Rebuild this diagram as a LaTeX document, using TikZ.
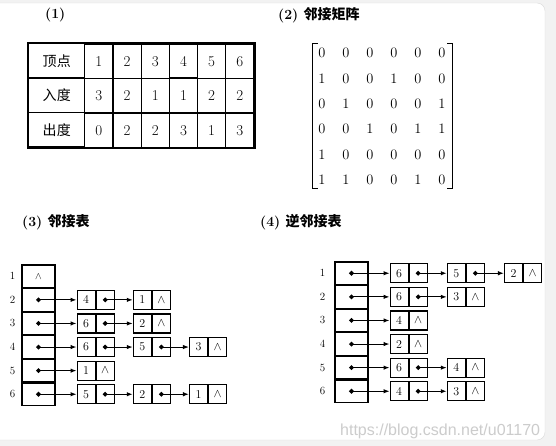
\documentclass[tikz,border=0pt]{standalone}
\usepackage{fontspec}
\newfontfamily\cjk{Noto Sans CJK SC}
\newfontfamily\urlfont{Liberation Sans}
\usetikzlibrary{arrows.meta, positioning, matrix, calc}

\begin{document}
\begin{tikzpicture}[x=1pt, y=-1pt,
    heading/.style={anchor=west, inner sep=0pt, font=\fontsize{14}{14}\selectfont\bfseries},
    cell/.style={draw, line width=1.1pt, minimum height=34pt, minimum width=28.2pt, inner sep=0pt, font=\fontsize{15}{15}\selectfont},
    hd/.style={draw, line width=1.1pt, minimum width=33pt, minimum height=22.5pt, inner sep=0pt},
    dat/.style={draw, line width=1.1pt, minimum width=18pt, minimum height=19pt, inner sep=0pt, font=\fontsize{12}{12}\selectfont},
    idx/.style={inner sep=0pt, font=\fontsize{11}{11}\selectfont},
    ptr/.style={{Circle[length=4.6pt]}-{Latex[length=6pt,width=4.5pt]}, line width=1.1pt, shorten <=-2.3pt},
    bracket/.style={line width=1pt}
]
\useasboundingbox (0,0) rectangle (556,446);
% frame of the screenshot
\fill[gray!10] (0,0) rectangle (556,446);
\fill[white, draw=gray!30, rounded corners=8pt] (-10,3) rectangle (545,440);

% headings
\node[heading] (t1) at (45,15) {(1)};
\node[heading] (t2) at (278,15) {(2) {\cjk\bfseries 邻接矩阵}};
\node[heading] (t3) at (22,222) {(3) {\cjk\bfseries 邻接表}};
\node[heading] (t4) at (260,222) {(4) {\cjk\bfseries 逆邻接表}};

% (1) degree table
\matrix (deg) [matrix of nodes, anchor=north west, inner sep=0pt,
    column sep=-1.1pt, row sep=-1.1pt, nodes={cell},
    column 1/.style={nodes={minimum width=56pt, font=\cjk\fontsize{14}{14}\selectfont}}] at (28,43) {
顶点 & 1 & 2 & 3 & 4 & 5 & 6 \\
入度 & 3 & 2 & 1 & 1 & 2 & 2 \\
出度 & 0 & 2 & 2 & 3 & 1 & 3 \\
};
\draw[line width=1.8pt] (deg.north west) rectangle (deg.south east);

% (2) adjacency matrix
\matrix (adj) [matrix of math nodes, inner sep=0pt,
    nodes={minimum width=24pt, minimum height=25.4pt, inner sep=0pt, font=\fontsize{14}{14}\selectfont}] at (382,116.5) {
0 & 0 & 0 & 0 & 0 & 0 \\
1 & 0 & 0 & 1 & 0 & 0 \\
0 & 1 & 0 & 0 & 0 & 1 \\
0 & 0 & 1 & 0 & 1 & 1 \\
1 & 0 & 0 & 0 & 0 & 0 \\
1 & 1 & 0 & 0 & 1 & 0 \\
};
\draw[bracket] ($(adj.north west)+(8,3)$) -- ++(-5,0) -- ($(adj.south west)+(3,-4)$) -- ++(5,0);
\draw[bracket] ($(adj.north east)+(-7,3)$) -- ++(5,0) -- ($(adj.south east)+(-2,-4)$) -- ++(-5,0);

% (3) adjacency list
\node[hd] (v1) at (38.5,276.25) {$\wedge$};
\node[hd, below=0pt of v1] (v2) {};
\node[hd, below=0pt of v2] (v3) {};
\node[hd, below=0pt of v3] (v4) {};
\node[hd, below=0pt of v4] (v5) {};
\node[hd, below=0pt of v5] (v6) {};
\node[idx, left=6pt of v1] (r1) {1};
\node[idx, left=6pt of v2] (r2) {2};
\node[idx, left=6pt of v3] (r3) {3};
\node[idx, left=6pt of v4] (r4) {4};
\node[idx, left=6pt of v5] (r5) {5};
\node[idx, left=6pt of v6] (r6) {6};

\node[dat, right=21pt of v2] (v2a) {4};
\node[dat, right=0pt of v2a] (v2ap) {};
\node[dat, right=18pt of v2ap] (v2b) {1};
\node[dat, right=0pt of v2b] (v2bp) {$\wedge$};

\node[dat, right=21pt of v3] (v3a) {6};
\node[dat, right=0pt of v3a] (v3ap) {};
\node[dat, right=18pt of v3ap] (v3b) {2};
\node[dat, right=0pt of v3b] (v3bp) {$\wedge$};

\node[dat, right=21pt of v4] (v4a) {6};
\node[dat, right=0pt of v4a] (v4ap) {};
\node[dat, right=18pt of v4ap] (v4b) {5};
\node[dat, right=0pt of v4b] (v4bp) {};
\node[dat, right=18pt of v4bp] (v4c) {3};
\node[dat, right=0pt of v4c] (v4cp) {$\wedge$};

\node[dat, right=21pt of v5] (v5a) {1};
\node[dat, right=0pt of v5a] (v5ap) {$\wedge$};

\node[dat, right=21pt of v6] (v6a) {5};
\node[dat, right=0pt of v6a] (v6ap) {};
\node[dat, right=18pt of v6ap] (v6b) {2};
\node[dat, right=0pt of v6b] (v6bp) {};
\node[dat, right=18pt of v6bp] (v6c) {1};
\node[dat, right=0pt of v6c] (v6cp) {$\wedge$};

\draw[ptr] (v2.center) -- (v2a);
\draw[ptr] (v2ap.center) -- (v2b);
\draw[ptr] (v3.center) -- (v3a);
\draw[ptr] (v3ap.center) -- (v3b);
\draw[ptr] (v4.center) -- (v4a);
\draw[ptr] (v4ap.center) -- (v4b);
\draw[ptr] (v4bp.center) -- (v4c);
\draw[ptr] (v5.center) -- (v5a);
\draw[ptr] (v6.center) -- (v6a);
\draw[ptr] (v6ap.center) -- (v6b);
\draw[ptr] (v6bp.center) -- (v6c);

% (4) inverse adjacency list
\node[hd] (w1) at (351.5,273.25) {};
\node[hd, below=0pt of w1] (w2) {};
\node[hd, below=0pt of w2] (w3) {};
\node[hd, below=0pt of w3] (w4) {};
\node[hd, below=0pt of w4] (w5) {};
\node[hd, below=0pt of w5] (w6) {};
\node[idx, left=9pt of w1] (s1) {1};
\node[idx, left=9pt of w2] (s2) {2};
\node[idx, left=9pt of w3] (s3) {3};
\node[idx, left=9pt of w4] (s4) {4};
\node[idx, left=9pt of w5] (s5) {5};
\node[idx, left=9pt of w6] (s6) {6};

\node[dat, right=21pt of w1] (w1a) {6};
\node[dat, right=0pt of w1a] (w1ap) {};
\node[dat, right=19pt of w1ap] (w1b) {5};
\node[dat, right=0pt of w1b] (w1bp) {};
\node[dat, right=19pt of w1bp] (w1c) {2};
\node[dat, right=0pt of w1c] (w1cp) {$\wedge$};

\node[dat, right=21pt of w2] (w2a) {6};
\node[dat, right=0pt of w2a] (w2ap) {};
\node[dat, right=19pt of w2ap] (w2b) {3};
\node[dat, right=0pt of w2b] (w2bp) {$\wedge$};

\node[dat, right=21pt of w3] (w3a) {4};
\node[dat, right=0pt of w3a] (w3ap) {$\wedge$};

\node[dat, right=21pt of w4] (w4a) {2};
\node[dat, right=0pt of w4a] (w4ap) {$\wedge$};

\node[dat, right=21pt of w5] (w5a) {6};
\node[dat, right=0pt of w5a] (w5ap) {};
\node[dat, right=19pt of w5ap] (w5b) {4};
\node[dat, right=0pt of w5b] (w5bp) {$\wedge$};

\node[dat, right=21pt of w6] (w6a) {4};
\node[dat, right=0pt of w6a] (w6ap) {};
\node[dat, right=19pt of w6ap] (w6b) {3};
\node[dat, right=0pt of w6b] (w6bp) {$\wedge$};

\draw[ptr] (w1.center) -- (w1a);
\draw[ptr] (w1ap.center) -- (w1b);
\draw[ptr] (w1bp.center) -- (w1c);
\draw[ptr] (w2.center) -- (w2a);
\draw[ptr] (w2ap.center) -- (w2b);
\draw[ptr] (w3.center) -- (w3a);
\draw[ptr] (w4.center) -- (w4a);
\draw[ptr] (w5.center) -- (w5a);
\draw[ptr] (w5ap.center) -- (w5b);
\draw[ptr] (w6.center) -- (w6a);
\draw[ptr] (w6ap.center) -- (w6b);

% watermark
\node[anchor=base west, inner sep=0pt, text=gray!40, font=\urlfont\fontsize{16}{16}\selectfont] (wm) at (340,435) {https://blog.csdn.net/u01170};
\end{tikzpicture}
\end{document}
